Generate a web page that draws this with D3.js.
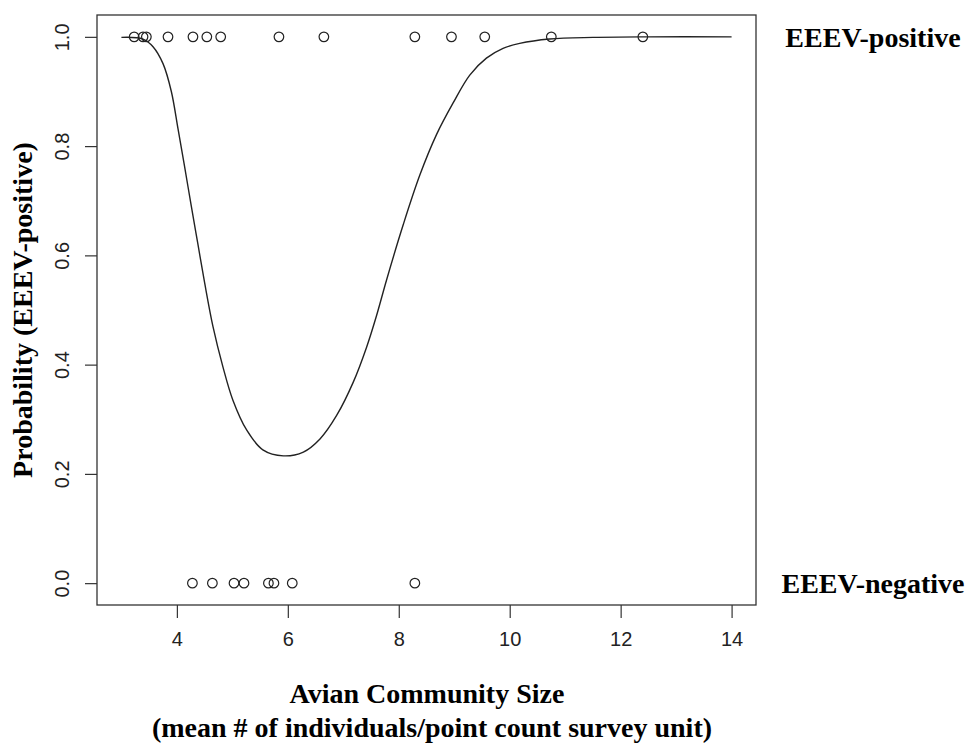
<!DOCTYPE html>
<html>
<head>
<meta charset="utf-8">
<script src="https://cdn.jsdelivr.net/npm/d3@7"></script>
<style>
  body { margin: 0; background: #fff; }
  svg { display: block; }
</style>
</head>
<body>
<script>
/* data */
var positiveX = [3.23, 3.39, 3.45, 3.84, 4.29, 4.54, 4.79, 5.84, 6.65, 8.29, 8.95, 9.55, 10.75, 12.40]
var negativeX = [4.28, 4.64, 5.03, 5.21, 5.65, 5.75, 6.08, 8.29]

// fitted probability curve
var curveX = [3.00, 3.39, 3.57, 3.75, 3.90, 4.02, 4.14, 4.26, 4.38, 4.50, 4.65, 4.83, 5.01, 5.26, 5.55, 5.92,
    6.28, 6.58, 6.88, 7.18, 7.42, 7.60, 7.78, 8.08, 8.38, 8.68, 8.98, 9.28, 9.58, 9.88, 10.18, 10.72, 11.5, 12.5, 14.0]
var curveY = [0.999, 0.996, 0.982, 0.951, 0.900, 0.832, 0.762, 0.690, 0.620, 0.550, 0.470, 0.396, 0.335, 0.280, 0.244, 0.233,
    0.240, 0.264, 0.307, 0.368, 0.432, 0.490, 0.555, 0.656, 0.747, 0.821, 0.879, 0.930, 0.961, 0.979, 0.988, 0.996, 0.999, 1.0, 1.0]

var xTicks = [4, 6, 8, 10, 12, 14]
var yTicks = [0, 0.2, 0.4, 0.6, 0.8, 1.0]

/* setup */
var width = 969, height = 746
var box = { left: 97, right: 756, top: 15, bottom: 605 }
var serif = '"Liberation Serif", "Times New Roman", serif'
var sans = '"Liberation Sans", Arial, sans-serif'

var svg = d3.select('body').append('svg')
    .attr('width', width)
    .attr('height', height)

var x = d3.scaleLinear().domain([2.56, 14.44]).range([box.left, box.right])
var y = d3.scaleLinear().domain([-0.04, 1.04]).range([box.bottom, box.top])

/* axes */
var xAxis = svg.append('g')
    .attr('transform', 'translate(0,' + box.bottom + ')')
    .call(d3.axisBottom(x).tickValues(xTicks).tickSize(13).tickPadding(14).tickFormat(d3.format('d')))
xAxis.select('.domain').remove()
xAxis.selectAll('line').attr('stroke', '#333').attr('stroke-width', 1.2)
xAxis.selectAll('text')
    .attr('font-family', sans).attr('font-size', 20).attr('fill', '#222')

var yAxis = svg.append('g')
    .attr('transform', 'translate(' + box.left + ',0)')
    .call(d3.axisLeft(y).tickValues(yTicks).tickSize(12).tickFormat(d3.format('.1f')))
yAxis.select('.domain').remove()
yAxis.selectAll('line').attr('stroke', '#333').attr('stroke-width', 1.2)
yAxis.selectAll('text')
    .attr('font-family', sans).attr('font-size', 20).attr('fill', '#222')
    .attr('x', null).attr('dy', null)
    .attr('text-anchor', 'middle')
    .attr('transform', 'translate(-28,0) rotate(-90)')

/* frame */
svg.append('rect')
    .attr('x', box.left).attr('y', box.top)
    .attr('width', box.right - box.left).attr('height', box.bottom - box.top)
    .attr('fill', 'none').attr('stroke', '#333').attr('stroke-width', 1.3)

/* curve */
var line = d3.line()
    .x(function(d) { return x(d[0]) })
    .y(function(d) { return y(d[1]) })
    .curve(d3.curveCatmullRom.alpha(0.5))

svg.append('path')
    .datum(d3.zip(curveX, curveY))
    .attr('d', line)
    .attr('fill', 'none')
    .attr('stroke', '#222')
    .attr('stroke-width', 1.4)

/* points */
var pts = positiveX.map(function(v) { return [v, 1] })
    .concat(negativeX.map(function(v) { return [v, 0] }))

svg.append('g').selectAll('circle').data(pts)
    .enter().append('circle')
    .attr('cx', function(d) { return x(d[0]) })
    .attr('cy', function(d) { return y(d[1]) })
    .attr('r', 4.8)
    .attr('fill', 'none')
    .attr('stroke', '#222')
    .attr('stroke-width', 1.2)

/* titles */
function boldText(sel) {
    return sel.attr('text-anchor', 'middle')
        .attr('font-family', serif).attr('font-weight', 'bold').attr('font-size', 28)
}

svg.append('text')
    .attr('transform', 'translate(32,' + ((box.top + box.bottom) / 2) + ') rotate(-90)')
    .call(boldText)
    .text('Probability (EEEV-positive)')

svg.append('text')
    .attr('x', 427).attr('y', 703)
    .call(boldText)
    .text('Avian Community Size')

svg.append('text')
    .attr('x', 432).attr('y', 737)
    .call(boldText)
    .text('(mean # of individuals/point count survey unit)')

svg.append('text')
    .attr('x', 873).attr('y', y(1)).attr('dy', '0.35em')
    .call(boldText)
    .text('EEEV-positive')

svg.append('text')
    .attr('x', 873).attr('y', y(0)).attr('dy', '0.35em')
    .call(boldText)
    .text('EEEV-negative')
</script>
</body>
</html>
